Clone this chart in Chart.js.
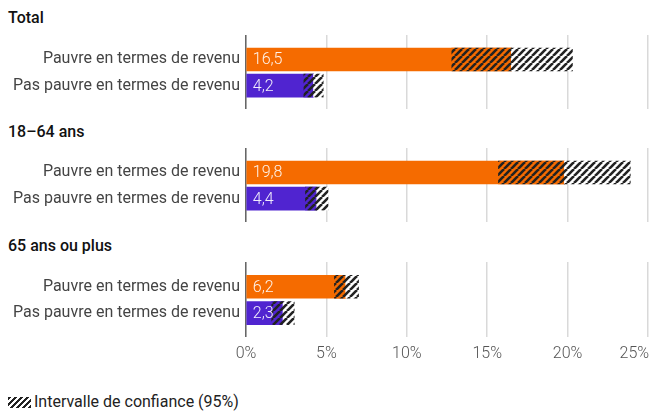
<!DOCTYPE html>
<html>
<head>
<meta charset="utf-8">
<script src="https://cdn.jsdelivr.net/npm/chart.js@4.4.0/dist/chart.umd.min.js"></script>
<style>
  body { margin: 0; background: #fff; font-family: Roboto, sans-serif; }
  .wrap { position: relative; width: 650px; height: 414px; overflow: hidden; }
  .title { position: absolute; left: 8px; font-size: 16px; line-height: 16px; font-weight: 500; color: #111; }
  .wrap canvas { position: absolute; left: 0; }
  .legend { position: absolute; left: 8px; top: 394px; font-size: 16px; line-height: 16px; color: #222; display: flex; align-items: center; }
  .swatch { width: 23px; height: 11px; margin-right: 3px;
    background: repeating-linear-gradient(135deg, #222 0 2.4px, transparent 2.4px 4.3px); }
</style>
</head>
<body>
<div class="wrap">
  <div class="title" style="top:10px">Total</div>
  <canvas id="c0" width="650" height="74" style="top:35px"></canvas>
  <div class="title" style="top:124px">18–64 ans</div>
  <canvas id="c1" width="650" height="74" style="top:148px"></canvas>
  <div class="title" style="top:238px">65 ans ou plus</div>
  <canvas id="c2" width="650" height="110" style="top:262px"></canvas>
  <div class="legend"><span class="swatch"></span>Intervalle de confiance (95%)</div>
</div>
<script>
// data
const groups = ['Total', '18–64 ans', '65 ans ou plus'];
const categories = ['Pauvre en termes de revenu', 'Pas pauvre en termes de revenu'];
const poorValues = [16.5, 19.8, 6.2];
const poorLow = [12.8, 15.7, 5.5];
const poorHigh = [20.3, 23.9, 7.0];
const notPoorValues = [4.2, 4.4, 2.3];
const notPoorLow = [3.6, 3.7, 1.6];
const notPoorHigh = [4.8, 5.1, 3.0];
const xTicks = [0, 5, 10, 15, 20, 25];

const ORANGE = '#f56b00';
const PURPLE = '#5024d0';

Chart.defaults.font.family = 'Roboto';
Chart.defaults.font.size = 16;

function makeHatch(bg) {
  const s = 7;
  const c = document.createElement('canvas');
  c.width = s; c.height = s;
  const ctx = c.getContext('2d');
  ctx.fillStyle = bg;
  ctx.fillRect(0, 0, s, s);
  ctx.strokeStyle = '#222';
  ctx.lineWidth = 2.6;
  for (const o of [-s, 0, s]) {
    ctx.beginPath();
    ctx.moveTo(o, s);
    ctx.lineTo(o + s, 0);
    ctx.stroke();
  }
  return ctx.createPattern(c, 'repeat');
}

const valueLabels = {
  id: 'valueLabels',
  afterDatasetsDraw(chart) {
    const ctx = chart.ctx;
    const idx = chart.data.datasets.findIndex(d => d.label === 'value');
    const meta = chart.getDatasetMeta(idx);
    ctx.save();
    ctx.fillStyle = 'rgba(255,255,255,0.92)';
    ctx.font = '300 16px Roboto';
    ctx.textAlign = 'left';
    ctx.textBaseline = 'middle';
    meta.data.forEach((bar, i) => {
      const v = chart.data.datasets[idx].data[i].x;
      ctx.fillText(v.toFixed(1).replace('.', ','), bar.base + 6, bar.y + 1);
    });
    ctx.restore();
  }
};

function makeChart(id, g, showTicks) {
  const ctx = document.getElementById(id).getContext('2d');
  const hatchOrange = makeHatch(ORANGE);
  const hatchPurple = makeHatch(PURPLE);
  const hatchWhite = makeHatch('#fff');
  return new Chart(ctx, {
    type: 'bar',
    data: {
      datasets: [
        {
          label: 'value',
          data: [{ y: 0, x: poorValues[g] }, { y: 1, x: notPoorValues[g] }],
          backgroundColor: [ORANGE, PURPLE],
          order: 3
        },
        {
          label: 'ciLow',
          data: [{ y: 0, x: [poorLow[g], poorValues[g]] }, { y: 1, x: [notPoorLow[g], notPoorValues[g]] }],
          backgroundColor: [hatchOrange, hatchPurple],
          order: 2
        },
        {
          label: 'ciHigh',
          data: [{ y: 0, x: [poorValues[g], poorHigh[g]] }, { y: 1, x: [notPoorValues[g], notPoorHigh[g]] }],
          backgroundColor: hatchWhite,
          order: 1
        }
      ]
    },
    options: {
      indexAxis: 'y',
      responsive: false,
      animation: false,
      layout: { padding: { left: 0, right: 2, top: 0, bottom: 0 } },
      datasets: { bar: { grouped: false, barThickness: 23, borderWidth: 0 } },
      plugins: { legend: { display: false }, tooltip: { enabled: false } },
      scales: {
        x: {
          type: 'linear',
          min: 0,
          max: 25,
          afterBuildTicks: s => { s.ticks = xTicks.map(v => ({ value: v })); },
          afterFit: s => { s.paddingLeft = 0; s.paddingRight = 0; },
          grid: { color: '#d9d9d9', lineWidth: 1.5, drawTicks: false },
          border: { display: false },
          ticks: {
            display: showTicks,
            padding: 8,
            color: '#555',
            font: { size: 16, weight: 300 },
            // last label sits inside the right edge, like the original
            callback: v => (v === 25 ? v + '%       ' : v + '%')
          }
        },
        y: {
          type: 'linear',
          reverse: true,
          offset: false,
          min: -0.94,
          max: 1.9,
          afterBuildTicks: s => { s.ticks = categories.map((c, i) => ({ value: i })); },
          afterFit: s => { s.width = 246; s.paddingTop = 0; s.paddingBottom = 0; },
          grid: { display: false, drawTicks: false },
          border: { color: '#666', width: 1.5 },
          ticks: {
            padding: 6,
            color: '#444',
            font: { size: 16, weight: 400 },
            callback: v => categories[v]
          }
        }
      }
    },
    plugins: [valueLabels]
  });
}

makeChart('c0', 0, false);
makeChart('c1', 1, false);
makeChart('c2', 2, true);
</script>
</body>
</html>
